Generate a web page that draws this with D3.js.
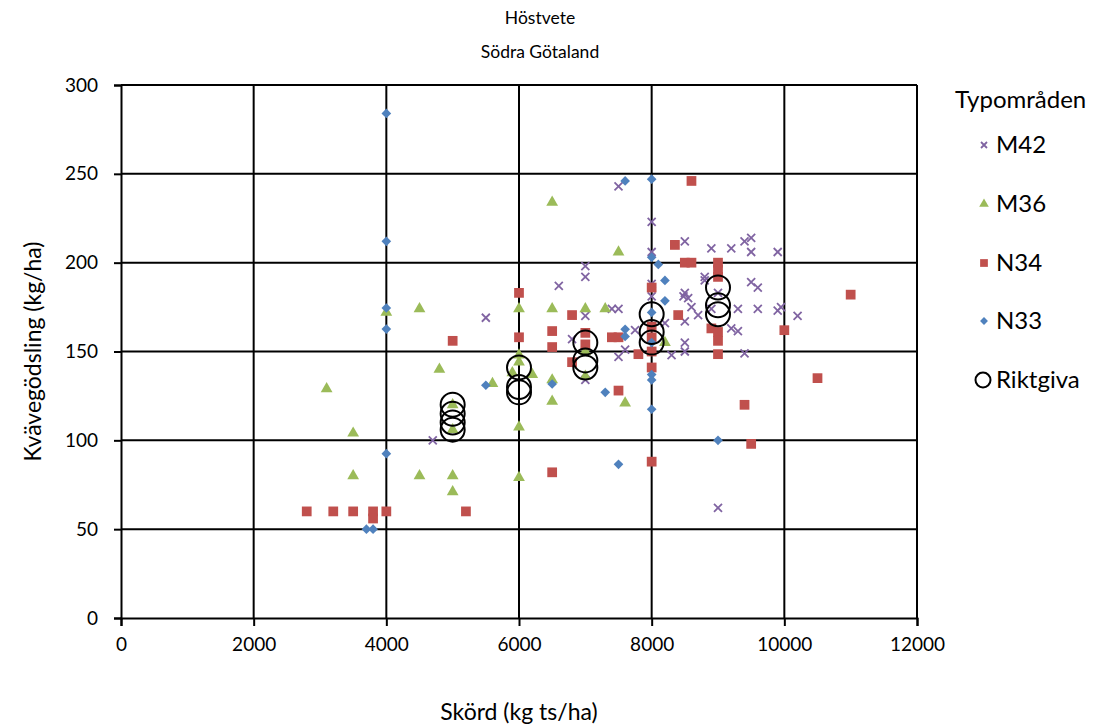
<!DOCTYPE html>
<html>
<head>
<meta charset="utf-8">
<script src="https://cdn.jsdelivr.net/npm/d3@7"></script>
<style>
  body { margin: 0; background: #fff; }
  svg text { font-family: Lato, "Open Sans", sans-serif; fill: #000; }
</style>
</head>
<body>
<div id="chart"></div>
<script>
"use strict"

// data: [skörd, kvävegödsling]
var m42 = [[7500,243],[8000,223],[8500,212],[8900,208],[9200,208],[9400,212],[9500,214],[9500,206],
  [9900,206],[8000,206],[7000,198],[7000,192],[8800,192],[8800,190],[9500,189],[9600,186],[6600,187],
  [8000,188],[8000,181],[8500,183],[8480,181],[8550,180],[8600,175],[8700,170.5],[8500,167],[8200,166],
  [9000,183],[8900,174],[9300,174],[9600,174],[9900,173],[9950,175],[10200,170],[9200,163],[9300,161.5],
  [9400,149],[8500,155],[8500,150],[8300,148],[7000,170],[7400,174],[7500,174],[6800,157],[7750,162],
  [7600,151],[7500,147],[7000,134],[5500,169],[4700,100],[9000,62]];
var m36 = [[6500,234],[7500,206],[4000,172],[4500,174],[6000,174],[6500,174],[7000,174],[7300,174],
  [6000,148],[6000,144],[5900,138],[6200,137],[4800,140],[3100,129],[5600,132],[6500,134],[5000,120],
  [5000,106],[6000,107.5],[3500,104],[6500,122],[7600,121],[8200,155],[7000,150],[7000,136],[3500,80],
  [4500,80],[5000,80],[5000,71],[6000,79]];
var n34 = [[8600,246],[8350,210],[8500,200],[8600,200],[9000,200],[9000,196],[9000,192],[6000,183],
  [8000,186],[11000,182],[6000,158],[5000,156],[6800,170.5],[6500,161.5],[6500,152.5],[7000,160.5],
  [7000,154],[6800,144],[7400,158],[7500,158],[7800,148.5],[8000,164],[8000,158],[8000,150],[8000,141],
  [8400,170.5],[8900,163],[9000,161],[9000,156],[9000,148.5],[10000,162],[10500,135],[9400,120],
  [9500,98],[7500,128],[6500,82],[8000,88],[2800,60],[3200,60],[3500,60],[3800,60],[3800,56],[4000,60],
  [5200,60]];
var n33 = [[4000,284],[4000,212],[7600,246],[8000,247],[8000,203],[8100,199],[8200,190],[8200,178.5],
  [4000,174.5],[4000,162.6],[8000,172],[7600,162.5],[7600,158.5],[8000,155],[8000,137],[8000,134],
  [8000,117.5],[5500,131],[6500,131.7],[7300,127],[4000,92.5],[7500,86.5],[9000,100],[3700,50],[3800,50]];
var riktgiva = [[5000,120],[5000,115],[5000,110],[5000,106],[6000,141],[6000,130],[6000,127],
  [7000,155],[7000,145],[7000,141],[8000,171],[8000,161],[8000,155],[9000,186],[9000,176],[9000,171]];

var seriesNames = ["M42", "M36", "N34", "N33", "Riktgiva"];
var xTicks = [0, 2000, 4000, 6000, 8000, 10000, 12000];
var yTicks = [0, 50, 100, 150, 200, 250, 300];

var width = 1096, height = 726;
var margin = {left: 121, right: 179, top: 85, bottom: 108};

var svg = d3.select("#chart").append("svg")
  .attr("width", width)
  .attr("height", height);

var x = d3.scaleLinear().domain([0, 12000]).range([margin.left, width - margin.right]);
var y = d3.scaleLinear().domain([0, 300]).range([height - margin.bottom, margin.top]);

// gridlines
svg.append("g").selectAll("line.v")
  .data(xTicks.slice(1))
  .enter().append("line")
    .attr("x1", function(d){ return x(d); })
    .attr("x2", function(d){ return x(d); })
    .attr("y1", y(0))
    .attr("y2", y(300))
    .attr("stroke", "#000")
    .attr("stroke-width", 2);

svg.append("g").selectAll("line.h")
  .data(yTicks.slice(1))
  .enter().append("line")
    .attr("x1", x(0))
    .attr("x2", x(12000))
    .attr("y1", function(d){ return y(d); })
    .attr("y2", function(d){ return y(d); })
    .attr("stroke", "#000")
    .attr("stroke-width", 2);

// axes
var xAxis = svg.append("g")
  .attr("transform", "translate(0," + y(0) + ")")
  .call(d3.axisBottom(x).tickValues(xTicks).tickSize(8).tickPadding(12).tickFormat(d3.format("d")));
var yAxis = svg.append("g")
  .attr("transform", "translate(" + x(0) + ",0)")
  .call(d3.axisLeft(y).tickValues(yTicks).tickSize(7).tickPadding(16));

[xAxis, yAxis].forEach(function(ax){
  ax.select(".domain").attr("stroke", "#000").attr("stroke-width", 2);
  ax.selectAll(".tick line").attr("stroke", "#000").attr("stroke-width", 2);
  ax.selectAll(".tick text")
    .style("font-family", "Lato, sans-serif")
    .style("font-size", "19px")
    .attr("fill", "#000");
});

// markers
var colors = {M42: "#8064A2", M36: "#9BBB59", N34: "#C0504D", N33: "#4F81BD"};

function drawX(g, data, s){
  g.selectAll("path").data(data).enter().append("path")
    .attr("d", "M" + (-s) + "," + (-s) + "L" + s + "," + s + "M" + (-s) + "," + s + "L" + s + "," + (-s))
    .attr("transform", function(d){ return "translate(" + x(d[0]) + "," + y(d[1]) + ")"; })
    .attr("stroke", colors.M42)
    .attr("stroke-width", 1.8)
    .attr("fill", "none");
}

function drawSymbol(g, data, type, size, color){
  g.selectAll("path").data(data).enter().append("path")
    .attr("d", d3.symbol().type(type).size(size))
    .attr("transform", function(d){ return "translate(" + x(d[0]) + "," + y(d[1]) + ")"; })
    .attr("fill", color);
}

drawX(svg.append("g"), m42, 4);
drawSymbol(svg.append("g"), m36, d3.symbolTriangle, 60, colors.M36);
drawSymbol(svg.append("g"), n34, d3.symbolSquare, 95, colors.N34);

var diamond = {draw: function(ctx, size){
  var r = Math.sqrt(size) / 1.6;
  ctx.moveTo(0, -r); ctx.lineTo(r, 0); ctx.lineTo(0, r); ctx.lineTo(-r, 0); ctx.closePath();
}};
drawSymbol(svg.append("g"), n33, diamond, 60, colors.N33);

svg.append("g").selectAll("circle").data(riktgiva).enter().append("circle")
  .attr("cx", function(d){ return x(d[0]); })
  .attr("cy", function(d){ return y(d[1]); })
  .attr("r", 12)
  .attr("fill", "none")
  .attr("stroke", "#000")
  .attr("stroke-width", 2);

// titles
svg.append("text").attr("x", 540).attr("y", 24).attr("text-anchor", "middle")
  .style("font-size", "17.5px").text("Höstvete");
svg.append("text").attr("x", 540).attr("y", 58).attr("text-anchor", "middle")
  .style("font-size", "17.5px").text("Södra Götaland");
svg.append("text").attr("x", x(6000)).attr("y", 720).attr("text-anchor", "middle")
  .style("font-size", "23px").text("Skörd (kg ts/ha)");
svg.append("text")
  .attr("transform", "translate(41," + y(150) + ") rotate(-90)")
  .attr("text-anchor", "middle")
  .style("font-size", "23px").text("Kvävegödsling (kg/ha)");

// legend
var legend = svg.append("g");
legend.append("text").attr("x", 955).attr("y", 108).style("font-size", "24px").text("Typområden");
var legendY = [145, 204, 263, 321, 380];
seriesNames.forEach(function(name, i){
  var cy = legendY[i], cx = 984;
  var g = legend.append("g");
  if(name === "M42"){
    g.append("path")
      .attr("d", "M-3,-3L3,3M-3,3L3,-3")
      .attr("transform", "translate(" + cx + "," + cy + ")")
      .attr("stroke", colors.M42).attr("stroke-width", 1.8);
  } else if(name === "M36"){
    g.append("path").attr("d", d3.symbol().type(d3.symbolTriangle).size(40))
      .attr("transform", "translate(" + cx + "," + cy + ")").attr("fill", colors.M36);
  } else if(name === "N34"){
    g.append("path").attr("d", d3.symbol().type(d3.symbolSquare).size(60))
      .attr("transform", "translate(" + cx + "," + cy + ")").attr("fill", colors.N34);
  } else if(name === "N33"){
    g.append("path").attr("d", d3.symbol().type(diamond).size(40))
      .attr("transform", "translate(" + cx + "," + cy + ")").attr("fill", colors.N33);
  } else {
    g.append("circle").attr("cx", cx - 1).attr("cy", cy).attr("r", 7.5)
      .attr("fill", "none").attr("stroke", "#000").attr("stroke-width", 2);
  }
  g.append("text").attr("x", 996).attr("y", cy + 8).style("font-size", "24px").text(name);
});
</script>
</body>
</html>
